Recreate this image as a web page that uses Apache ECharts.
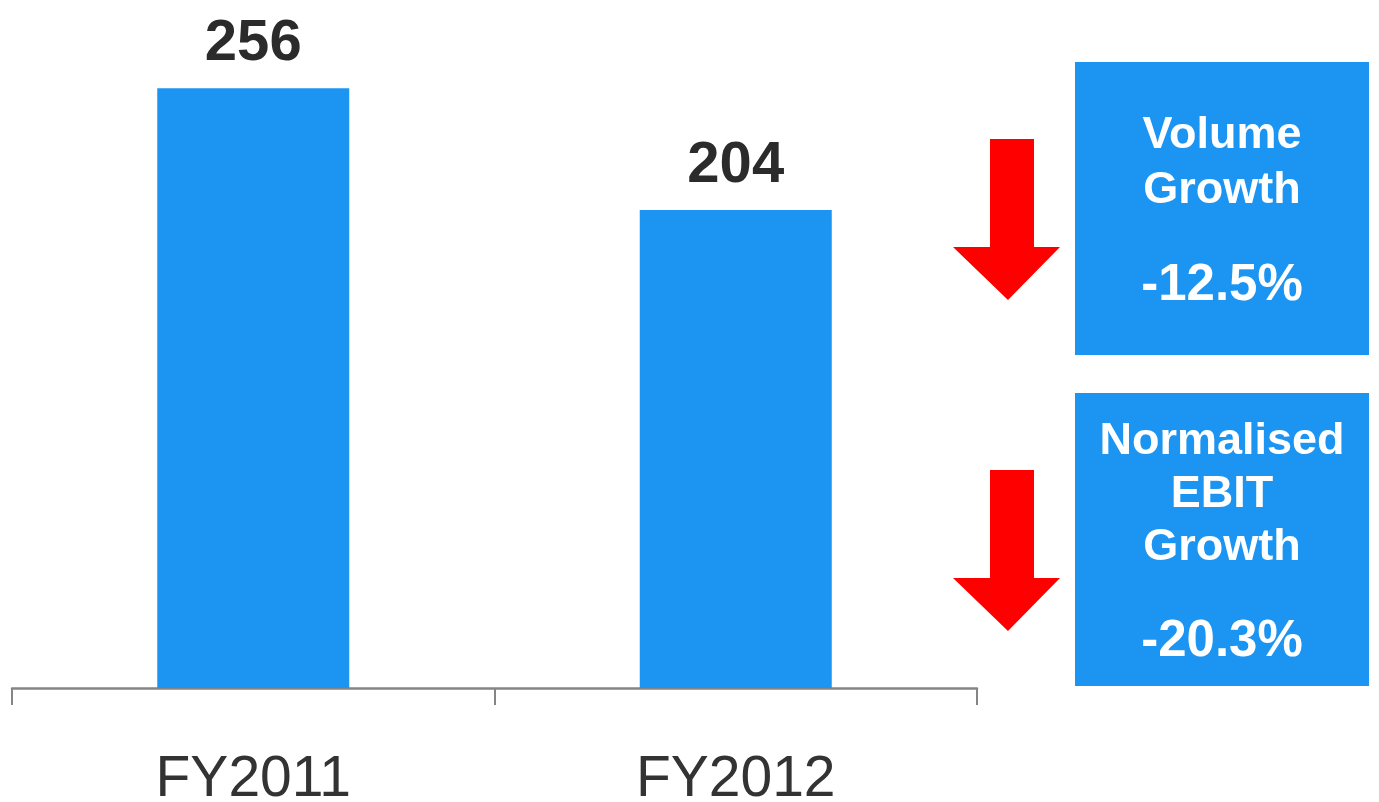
<!DOCTYPE html>
<html>
<head>
<meta charset="utf-8">
<script src="https://cdn.jsdelivr.net/npm/echarts@6/dist/echarts.min.js"></script>
<style>html,body{margin:0;padding:0;background:#fff}#c{width:1379px;height:802px}</style>
</head>
<body>
<div id="c"></div>
<script>
const categories = ['FY2011', 'FY2012'];
const values = [256, 204];
const boxTitles = [['Volume', 'Growth'], ['Normalised', 'EBIT', 'Growth']];
const boxValues = ['-12.5%', '-20.3%'];

const BLUE = '#1C95F2';
const RED = '#FF0000';
const FONT = '"Liberation Sans", Arial, sans-serif';

const chart = echarts.init(document.getElementById('c'), null, {renderer: 'canvas'});

function arrow(top) {
  return {
    type: 'polygon',
    shape: {points: [[990, top], [1034, top], [1034, top + 108], [1060, top + 108], [1008, top + 161], [953, top + 108], [990, top + 108]]},
    style: {fill: RED}
  };
}
function box(y, h) {
  return {type: 'rect', shape: {x: 1075, y: y, width: 294, height: h}, style: {fill: BLUE}};
}
function txt(s, y, size) {
  return {type: 'text', x: 1222, y: y, style: {text: s, fill: '#fff', font: 'bold ' + size + 'px ' + FONT, align: 'center', verticalAlign: 'middle'}};
}

const graphics = [
  box(62, 293), arrow(139),
  txt(boxTitles[0][0], 136, 45), txt(boxTitles[0][1], 191, 45), txt(boxValues[0], 286, 51),
  box(393, 293), arrow(470),
  txt(boxTitles[1][0], 442, 45), txt(boxTitles[1][1], 495, 45), txt(boxTitles[1][2], 548, 45), txt(boxValues[1], 642, 51)
];

chart.setOption({
  animation: false,
  backgroundColor: '#fff',
  grid: {left: 12, right: 402, top: 32, bottom: 114, containLabel: false, outerBoundsMode: 'none'},
  xAxis: {
    type: 'category',
    data: categories,
    boundaryGap: true,
    axisLine: {lineStyle: {color: '#858585', width: 2.5}},
    axisTick: {show: true, length: 17, lineStyle: {color: '#858585', width: 2}},
    axisLabel: {color: '#333', fontSize: 57, fontFamily: FONT, margin: 64}
  },
  yAxis: {type: 'value', min: 0, max: 280, show: false, splitLine: {show: false}},
  series: [{
    type: 'bar',
    data: values,
    barWidth: 192,
    itemStyle: {color: BLUE},
    label: {show: true, position: 'top', distance: 15, color: '#2b2b2b', fontSize: 58, fontWeight: 'bold', fontFamily: FONT}
  }],
  graphic: graphics
});
</script>
</body>
</html>
